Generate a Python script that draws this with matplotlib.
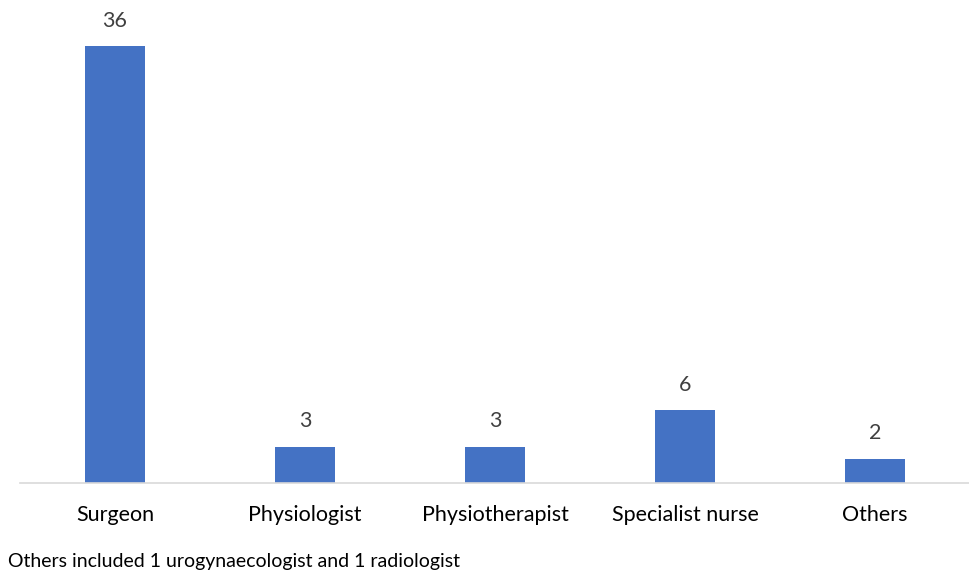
import matplotlib.pyplot as plt

plt.rcParams['font.family'] = ['Lato', 'DejaVu Sans']

roles = ["Surgeon", "Physiologist", "Physiotherapist", "Specialist nurse", "Others"]
counts = [36, 3, 3, 6, 2]
footnote = "Others included 1 urogynaecologist and 1 radiologist"

fig = plt.figure(figsize=(9.69, 5.71), dpi=100)
ax = fig.add_axes([20 / 969, 88 / 571, 950 / 969, 461 / 571])

index = range(len(roles))
bars = ax.bar(index, counts, width=0.316, color='#4472C4')

for b, v in zip(bars, counts):
    ax.annotate(str(v), (b.get_x() + b.get_width() / 2, v), xytext=(0, 18.5),
                textcoords='offset points', ha='center', va='center',
                fontsize=15.5, color='#404040')

ax.set_xlim(-0.5, 4.5)
ax.set_ylim(0, 38)
ax.set_xticks(list(index))
ax.set_xticklabels(roles, fontsize=15.5, color='#000000')
ax.tick_params(axis='x', length=0, pad=16)
ax.set_yticks([])
for s in ['top', 'right', 'left']:
    ax.spines[s].set_visible(False)
ax.spines['bottom'].set_color('#D9D9D9')
ax.spines['bottom'].set_linewidth(1.2)

fig.text(8 / 969, 1 - 561 / 571, footnote, fontsize=14, color='#000000', va='center', ha='left')

fig.savefig('out.png', dpi=100)
